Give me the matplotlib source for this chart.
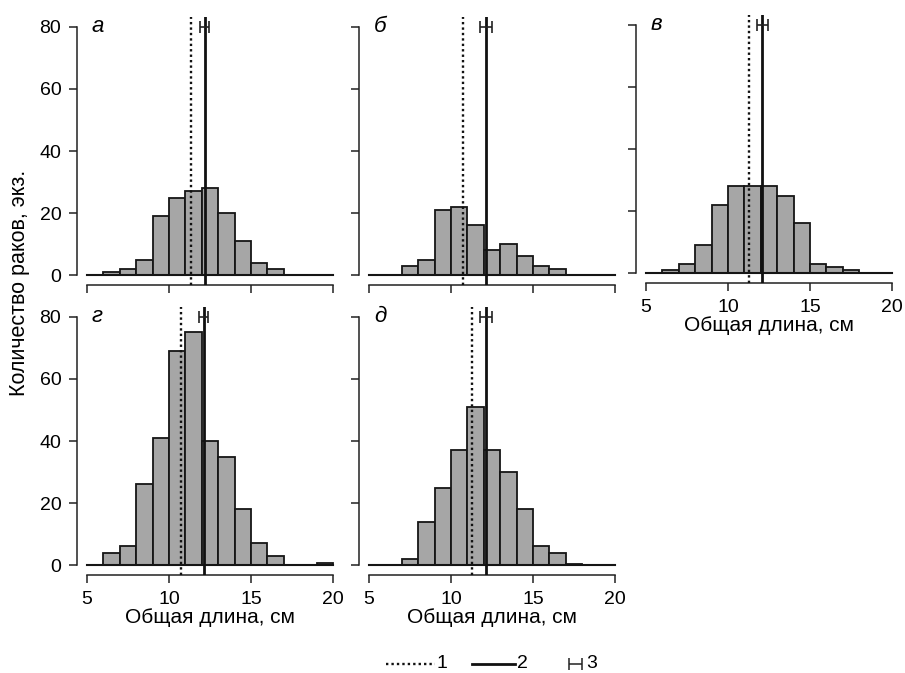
import numpy as np
import matplotlib
matplotlib.use("Agg")
import matplotlib.pyplot as plt

plt.rcParams['font.family'] = ['Liberation Sans', 'DejaVu Sans']

# bins 5..20 step 1 (left edges)
bin_edges = list(range(5, 21))

# counts per bin (5-6, 6-7, ..., 19-20)
counts_a = [0, 1, 2, 5, 19, 25, 27, 28, 20, 11, 4, 2, 0, 0, 0]
counts_b = [0, 0, 3, 5, 21, 22, 16, 8, 10, 6, 3, 2, 0, 0, 0]
counts_v = [0, 1, 3, 9, 22, 28, 28, 28, 25, 16, 3, 2, 1, 0, 0]
counts_g = [0, 4, 6, 26, 41, 69, 75, 40, 35, 18, 7, 3, 0, 0, 0.6]
counts_d = [0, 0, 2, 14, 25, 37, 51, 37, 30, 18, 6, 4, 0.5, 0, 0]

# line 1 (dotted), line 2 (solid, mean), half width of interval 3
line1 = [11.33, 10.75, 11.28, 10.73, 11.29]
line2 = [12.18, 12.11, 12.09, 12.11, 12.12]
ci_half = [0.27, 0.37, 0.35, 0.29, 0.35]

panel_labels = ["а", "б", "в", "г", "д"]
all_counts = [counts_a, counts_b, counts_v, counts_g, counts_d]

xticks = [5, 10, 15, 20]
yticks = [0, 20, 40, 60, 80]

W, H = 905, 673
fig = plt.figure(figsize=(W / 100, H / 100), dpi=100)

# panel boxes in pixels: left, top
lefts = [77, 359, 636, 77, 359]
tops = [17, 17, 15, 307, 307]
pw, ph = 266, 268

show_ylab = [True, False, False, True, False]
show_xlab = [False, False, True, True, True]

for i in range(5):
    ax = fig.add_axes([lefts[i] / W, 1 - (tops[i] + ph) / H, pw / W, ph / H])
    ax.set_xlim(4.4, 20.6)
    ax.set_ylim(-3.2, 83.2)
    c = all_counts[i]
    ax.bar(bin_edges[:-1], c, width=1, align='edge', color='#a6a6a6',
           edgecolor='#151515', linewidth=1.3, zorder=2)
    ax.plot([5, 20], [0, 0], color='#151515', lw=1.5, zorder=3)
    ax.axvline(line1[i], color='#111111', lw=1.7, ls=(0, (1, 1.3)), zorder=4)
    ax.axvline(line2[i], color='#111111', lw=2.0, zorder=4)
    ax.errorbar([line2[i]], [80], xerr=[ci_half[i]], fmt='none',
                ecolor='#222222', elinewidth=1.2, capsize=4.5, capthick=1.2,
                zorder=5)
    ax.text(5.3, 80, panel_labels[i], fontsize=16, style='italic',
            ha='left', va='center')

    for s in ['top', 'right']:
        ax.spines[s].set_visible(False)
    ax.spines['left'].set_bounds(0, 80)
    ax.spines['bottom'].set_bounds(5, 20)
    for s in ['left', 'bottom']:
        ax.spines[s].set_linewidth(1.1)
        ax.spines[s].set_color('#222222')
    ax.set_xticks(xticks)
    ax.set_yticks(yticks)
    ax.tick_params(direction='out', length=5.8, width=1.1, color='#222222',
                   labelsize=14, pad=6)
    ax.tick_params(axis='y', pad=5.5)
    if not show_ylab[i]:
        ax.set_yticklabels([])
    if show_xlab[i]:
        ax.set_xlabel("Общая длина, см", fontsize=15, labelpad=0)
    else:
        ax.set_xticklabels([])

fig.text(20 / W, 1 - 283 / H, "Количество раков, экз.", rotation=90,
         fontsize=15.5, ha='center', va='center')

# legend
lg = fig.add_axes([0, 0, 1, 1], facecolor='none')
lg.set_xlim(0, W)
lg.set_ylim(H, 0)
lg.axis('off')
ly = 664
lg.plot([386, 435], [ly, ly], color='#111111', lw=1.7, ls=(0, (1, 1.3)))
lg.text(436, ly, "1", fontsize=14, ha='left', va='center')
lg.plot([472, 515], [ly, ly], color='#111111', lw=2.0)
lg.text(517, ly, "2", fontsize=14, ha='left', va='center')
lg.errorbar([575.5], [ly], xerr=[6.5], fmt='none', ecolor='#222222',
            elinewidth=1.1, capsize=4, capthick=1.1)
lg.text(586, ly, "3", fontsize=14, ha='left', va='center')

fig.savefig("out.png", dpi=100)
